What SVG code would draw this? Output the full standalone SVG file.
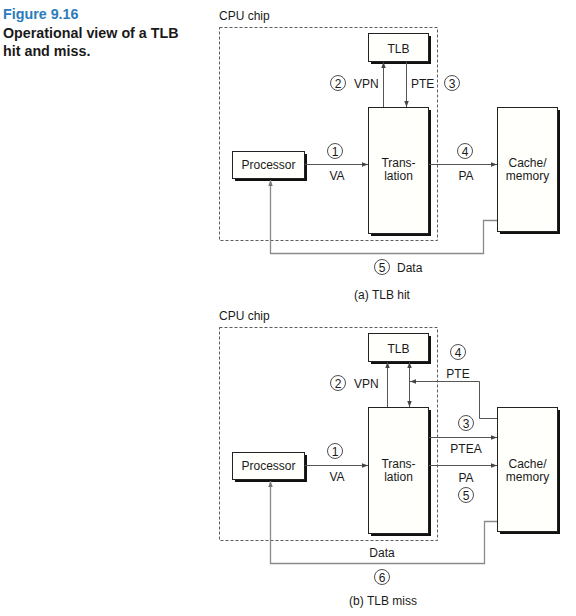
<svg xmlns="http://www.w3.org/2000/svg" width="576" height="616" viewBox="0 0 576 616">
<defs>
<style>
text{font-family:"Liberation Sans",Arial,sans-serif;font-size:12px;fill:#1a1a1a}
.t{font-weight:bold;font-size:14.3px;fill:#1a1a1a}
.fig{fill:#2b7bbb}
.m{text-anchor:middle}
.n{font-size:12px;text-anchor:middle}
.box{fill:#fffffb;stroke:#222;stroke-width:1}
.sh{fill:#111}
.chip{fill:none;stroke:#333;stroke-width:0.8;stroke-dasharray:3 2}
.ln{fill:none;stroke:#555;stroke-width:1}
.data{fill:none;stroke:#8a8a8a;stroke-width:1.3}
.c{fill:#fff;stroke:#222;stroke-width:0.8}
</style>
<marker id="ah" viewBox="0 0 8 6" refX="8" refY="3" markerWidth="6" markerHeight="4.5" orient="auto-start-reverse" markerUnits="userSpaceOnUse">
<path d="M0,0L8,3L0,6z" fill="#444"/>
</marker>
<marker id="ahg" viewBox="0 0 8 6" refX="8" refY="3" markerWidth="6" markerHeight="4.5" orient="auto" markerUnits="userSpaceOnUse">
<path d="M0,0L8,3L0,6z" fill="#777"/>
</marker>
</defs>
<rect width="576" height="616" fill="#fff"/>
<g id="caption">
<text class="t fig" x="3" y="19">Figure 9.16</text>
<text class="t" x="3" y="38">Operational view of a TLB</text>
<text class="t" x="3" y="56">hit and miss.</text>
</g>

<!-- (a) TLB hit -->
<g id="a-chip">
<text x="219" y="20">CPU chip</text>
<rect class="chip" x="219.5" y="27.5" width="218" height="213"/>
</g>
<g id="a-tlb">
<rect class="sh" x="371" y="36" width="60" height="28"/>
<rect class="box" x="368.5" y="33.5" width="60" height="28"/>
<text class="m" x="398.5" y="53">TLB</text>
</g>
<g id="a-translation">
<rect class="sh" x="371" y="110" width="60" height="126"/>
<rect class="box" x="368.5" y="107.5" width="60" height="126"/>
<text class="m" x="398.5" y="167">Trans-</text>
<text class="m" x="398.5" y="180">lation</text>
</g>
<g id="a-processor">
<rect class="sh" x="235" y="154" width="72" height="27"/>
<rect class="box" x="232.5" y="151.5" width="72" height="27"/>
<text class="m" x="268.5" y="169">Processor</text>
</g>
<g id="a-cache">
<rect class="sh" x="500" y="110" width="60" height="124"/>
<rect class="box" x="497.5" y="107.5" width="60" height="124"/>
<text class="m" x="527.5" y="167">Cache/</text>
<text class="m" x="527.5" y="180">memory</text>
</g>
<g id="a-connectors">
<line class="ln" x1="383.5" y1="107" x2="383.5" y2="62" marker-end="url(#ah)"/>
<line class="ln" x1="406.5" y1="62" x2="406.5" y2="107" marker-end="url(#ah)"/>
<line class="ln" x1="305" y1="164.5" x2="368" y2="164.5" marker-end="url(#ah)"/>
<line class="ln" x1="429" y1="164.5" x2="497" y2="164.5" marker-end="url(#ah)"/>
<polyline class="data" points="497,220.5 483.5,220.5 483.5,253.5 270.5,253.5 270.5,180" marker-end="url(#ahg)"/>
</g>
<g id="a-labels">
<circle class="c" cx="338" cy="83" r="7.5"/><text class="n" x="338" y="87.5">2</text>
<text x="354" y="88">VPN</text>
<text x="411" y="88">PTE</text>
<circle class="c" cx="452" cy="83" r="7.5"/><text class="n" x="452" y="87.5">3</text>
<circle class="c" cx="335" cy="151" r="7.5"/><text class="n" x="335" y="155.5">1</text>
<text class="m" x="337" y="180">VA</text>
<circle class="c" cx="465" cy="151" r="7.5"/><text class="n" x="465" y="155.5">4</text>
<text class="m" x="466" y="180">PA</text>
<circle class="c" cx="382" cy="267" r="7.5"/><text class="n" x="382" y="271.5">5</text>
<text x="397" y="272">Data</text>
<text class="m" x="382" y="299">(a) TLB hit</text>
</g>

<!-- (b) TLB miss -->
<g id="b-chip">
<text x="219" y="320">CPU chip</text>
<rect class="chip" x="219.5" y="327.5" width="218" height="213"/>
</g>
<g id="b-tlb">
<rect class="sh" x="371" y="336" width="60" height="28"/>
<rect class="box" x="368.5" y="333.5" width="60" height="28"/>
<text class="m" x="398.5" y="353">TLB</text>
</g>
<g id="b-translation">
<rect class="sh" x="371" y="410" width="60" height="126"/>
<rect class="box" x="368.5" y="407.5" width="60" height="126"/>
<text class="m" x="398.5" y="468">Trans-</text>
<text class="m" x="398.5" y="481">lation</text>
</g>
<g id="b-processor">
<rect class="sh" x="235" y="455" width="72" height="27"/>
<rect class="box" x="232.5" y="452.5" width="72" height="27"/>
<text class="m" x="268.5" y="470">Processor</text>
</g>
<g id="b-cache">
<rect class="sh" x="500" y="410" width="60" height="124"/>
<rect class="box" x="497.5" y="407.5" width="60" height="124"/>
<text class="m" x="527.5" y="468">Cache/</text>
<text class="m" x="527.5" y="481">memory</text>
</g>
<g id="b-connectors">
<line class="ln" x1="387.5" y1="407" x2="387.5" y2="362" marker-end="url(#ah)"/>
<line class="ln" x1="409.5" y1="362" x2="409.5" y2="407" marker-start="url(#ah)" marker-end="url(#ah)"/>
<polyline class="ln" points="497,418.5 479.5,418.5 479.5,381.5 410,381.5" marker-end="url(#ah)"/>
<line class="ln" x1="429" y1="437.5" x2="497" y2="437.5" marker-end="url(#ah)"/>
<line class="ln" x1="305" y1="465.5" x2="368" y2="465.5" marker-end="url(#ah)"/>
<line class="ln" x1="429" y1="465.5" x2="497" y2="465.5" marker-end="url(#ah)"/>
<polyline class="data" points="497,521.5 484.5,521.5 484.5,563.5 270.5,563.5 270.5,481" marker-end="url(#ahg)"/>
</g>
<g id="b-labels">
<circle class="c" cx="338" cy="383" r="7.5"/><text class="n" x="338" y="387.5">2</text>
<text x="354" y="388">VPN</text>
<circle class="c" cx="458" cy="352" r="7.5"/><text class="n" x="458" y="356.5">4</text>
<text class="m" x="458" y="378">PTE</text>
<circle class="c" cx="466" cy="423" r="7.5"/><text class="n" x="466" y="427.5">3</text>
<text class="m" x="466" y="453">PTEA</text>
<circle class="c" cx="335" cy="451" r="7.5"/><text class="n" x="335" y="455.5">1</text>
<text class="m" x="337" y="481">VA</text>
<text class="m" x="466" y="482">PA</text>
<circle class="c" cx="466" cy="495" r="7.5"/><text class="n" x="466" y="499.5">5</text>
<text class="m" x="382" y="557">Data</text>
<circle class="c" cx="382" cy="577" r="7.5"/><text class="n" x="382" y="581.5">6</text>
<text class="m" x="383" y="605">(b) TLB miss</text>
</g>
</svg>
